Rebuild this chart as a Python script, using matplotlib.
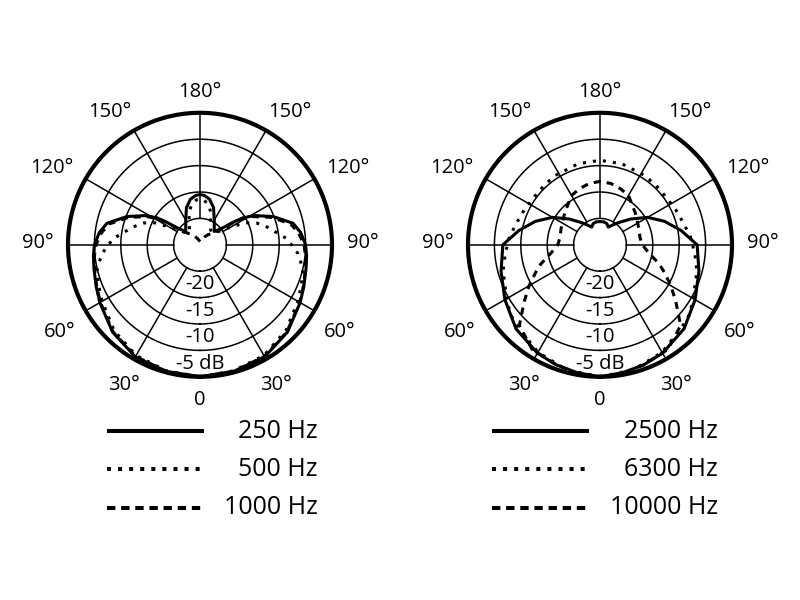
import numpy as np
import matplotlib
matplotlib.use("Agg")
import matplotlib.pyplot as plt

plt.rcParams['font.family'] = ['Open Sans', 'DejaVu Sans']

# angles (deg from front, one half; mirrored for the other side) and levels in dB
ang_250 = [0, 15, 30, 45, 60, 68, 77, 84, 90, 97, 103, 111, 118, 122, 124, 127, 133, 140, 150, 160, 168, 175, 180]
db_250 = [0, -0.2, -0.5, -1.6, -3.1, -3.8, -4.4, -4.7, -5.0, -5.8, -6.9, -10.1, -13.2, -15.3, -17.2,
          -19.8, -21.3, -20.8, -19.6, -17.5, -16.2, -15.6, -15.5]

ang_500 = [0, 15, 30, 45, 60, 68, 77, 85, 94, 105, 111, 116, 120, 125, 135, 145, 150, 155, 160, 168, 175, 180]
db_500 = [0, -0.3, -0.8, -2.0, -3.6, -4.3, -5.0, -6.4, -8.5, -11.9, -13.5, -15.5, -18.3, -20.5, -21.8,
          -21.5, -21.0, -20.3, -18.8, -17.2, -16.5, -16.3]

ang_1000 = [0, 15, 30, 45, 60, 68, 77, 84, 90, 97, 103, 111, 118, 122, 124, 128, 135, 142, 149, 160, 170, 180]
db_1000 = [0, -0.2, -0.6, -1.7, -3.2, -3.9, -4.5, -4.9, -5.3, -6.2, -7.4, -10.5, -13.6, -15.8, -17.6,
           -20.8, -22.0, -22.6, -23.2, -23.8, -24.2, -24.4]

ang_2500 = [0, 10, 20, 30, 45, 60, 75, 90, 100, 110, 120, 130, 140, 147, 155, 162, 170, 180]
db_2500 = [0, -0.4, -0.8, -1.3, -2.5, -4.2, -5.6, -6.6, -9.4, -12.0, -14.6, -17.4, -19.5, -20.5,
           -21.3, -20.8, -20.6, -20.6]

ang_6300 = [0, 15, 30, 45, 52, 60, 75, 85, 95, 105, 115, 127, 138, 148, 165, 180]
db_6300 = [0, -0.5, -1.5, -3.0, -3.5, -4.6, -6.0, -7.0, -7.8, -8.7, -9.2, -9.6, -9.5, -9.4, -9.1, -9.0]

ang_10000 = [0, 10, 20, 33, 45, 53, 60, 67, 72, 80, 90, 100, 113, 132, 150, 160, 170, 180]
db_10000 = [0, -0.3, -0.8, -1.4, -3.4, -7.0, -9.5, -11.8, -13.2, -15.5, -17.0, -17.3, -17.0, -16.0,
            -14.2, -13.7, -13.2, -13.0]

left_labels = ['250 Hz', '500 Hz', '1000 Hz']
right_labels = ['2500 Hz', '6300 Hz', '10000 Hz']

ring_levels = [-20, -15, -10, -5]
ring_texts = ['-20', '-15', '-10', '-5 dB']
angle_ticks = [0, 30, 60, 90, 120, 150, 180]
angle_texts = ['0', '30°', '60°', '90°', '120°', '150°', '180°']
# where each angle label sits (angle in deg, radius in dB units from centre)
label_pos = [(0, 29.4), (28.5, 30.2), (58.1, 31.2), (90.7, 30.8), (117.5, 31.6), (146, 30.4), (180, 29.0)]

R0 = 25  # dB range shown (-25 .. 0)
styles = [dict(ls='-'), dict(ls=(0, (1, 2.3))), dict(ls=(0, (2.3, 2.0)))]


def mirror(ang, db):
    a = np.asarray(ang, float)
    d = np.asarray(db, float)
    full_a = np.concatenate([a, 360 - a[::-1][1:]])
    full_d = np.concatenate([d, d[::-1][1:]])
    return np.deg2rad(full_a), full_d + R0


def polar_panel(ax, curves):
    ax.set_theta_zero_location('S')
    ax.set_ylim(0, R0)
    ax.set_axis_off()
    th = np.linspace(0, 2 * np.pi, 361)
    for lv in ring_levels:
        ax.plot(th, np.full_like(th, lv + R0), color='k', lw=1.1)
    ax.plot(th, np.full_like(th, R0), color='k', lw=3.0, clip_on=False)
    for a in range(30, 360, 30):
        t = np.deg2rad(a)
        ax.plot([t, t], [R0 - 20, R0], color='k', lw=1.1)
    for (ang, db), st in zip(curves, styles):
        t, r = mirror(ang, db)
        ax.plot(t, r, color='k', lw=2.2, dash_capstyle='butt', clip_on=False, zorder=3, **st)
    for lv, txt in zip(ring_levels, ring_texts):
        ax.text(0, lv + R0 + 2.5, txt, ha='center', va='center', fontsize=14.5)
    for txt, (pa, pr) in zip(angle_texts, label_pos):
        for s in {pa, 360 - pa} if 0 < pa < 180 else {pa}:
            ax.text(np.deg2rad(s), pr, txt, ha='center', va='center', fontsize=14.5)


fig = plt.figure(figsize=(8, 6), dpi=100)
ax1 = fig.add_axes([0.085, 0.372, 0.33, 0.44], projection='polar')
ax2 = fig.add_axes([0.585, 0.372, 0.33, 0.44], projection='polar')
polar_panel(ax1, [(ang_250, db_250), (ang_500, db_500), (ang_1000, db_1000)])
polar_panel(ax2, [(ang_2500, db_2500), (ang_6300, db_6300), (ang_10000, db_10000)])

# legends drawn in pixel-like overlay coordinates
ov = fig.add_axes([0, 0, 1, 1])
ov.set_xlim(0, 800)
ov.set_ylim(600, 0)
ov.set_axis_off()
leg_styles = [dict(ls='-'), dict(ls=(0, (1, 1.75))), dict(ls=(0, (2.08, 1.43)))]
rows = [431, 469, 508]
for x0, x_text, labels in [(107, 318, left_labels), (492, 718, right_labels)]:
    for y, lab, st in zip(rows, labels, leg_styles):
        ov.plot([x0, x0 + 97], [y, y], color='k', lw=2.9, solid_capstyle='butt',
                dash_capstyle='butt', **st)
        ov.text(x_text, y, lab, ha='right', va='center', fontsize=18)

fig.savefig('out.png', dpi=100, facecolor='white')
